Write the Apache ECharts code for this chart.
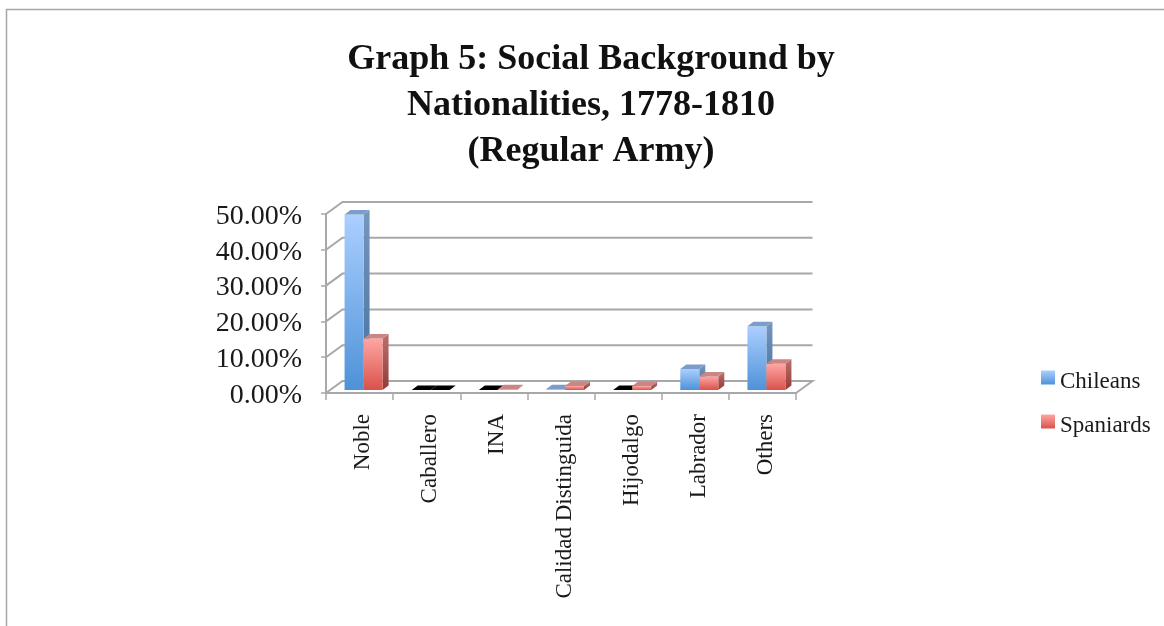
<!DOCTYPE html>
<html>
<head>
<meta charset="utf-8">
<style>html,body{margin:0;padding:0;background:#fff}#chart{width:1164px;height:626px}</style>
<script src="https://cdn.jsdelivr.net/npm/echarts@6/dist/echarts.min.js"></script>
</head>
<body>
<div id="chart"></div>
<script>
// Share of officers per social background, in percent
const categories = ['Noble', 'Caballero', 'INA', 'Calidad Distinguida', 'Hijodalgo', 'Labrador', 'Others'];
const chileans = [49, 0, 0, 0.2, 0, 5.9, 17.8];
const spaniards = [14.4, 0, 0.2, 1.1, 1.1, 3.8, 7.3];
const yTicks = [0, 10, 20, 30, 40, 50];
const titleLines = ['Graph 5: Social Background by', 'Nationalities, 1778-1810', '(Regular Army)'];

const FONT = '"Liberation Serif", serif';
const TEXT = '#1a1a1a';
const WALL = '#a8a8a8';

// Oblique projection of the chart box and of a single bar
const BOX_DEPTH = [16.5, -12];
const BAR_DEPTH = [6, -4.5];
const BAR_SHIFT = [4, -3];
const BAR_W = 19;

function vGrad(top, bottom) {
  return {type: 'linear', x: 0, y: 0, x2: 0, y2: 1,
    colorStops: [{offset: 0, color: top}, {offset: 1, color: bottom}]};
}

const palette = {
  Chileans: {front: vGrad('#abcfff', '#4e92d8'), side: vGrad('#7696bd', '#436f9e'), top: '#7c9cca'},
  Spaniards: {front: vGrad('#ffa6a3', '#d9524b'), side: vGrad('#b9716e', '#943a36'), top: '#c98683'}
};

// Box walls: one polyline per value tick, plus the floor edge on the right
function renderWall(params, api) {
  const cs = params.coordSys;
  const y = api.coord([0, api.value(0)])[1];
  const x0 = cs.x, x1 = cs.x + cs.width;
  const bx0 = x0 + BOX_DEPTH[0], bx1 = x1 + BOX_DEPTH[0], by = y + BOX_DEPTH[1];
  const points = [[x0, y], [bx0, by], [bx1, by]];
  if (api.value(0) === 0) points.push([x1, y]);
  return {type: 'polyline', shape: {points},
    style: {fill: null, stroke: WALL, lineWidth: 2}, silent: true};
}

function poly(points, fill) {
  return {type: 'polygon', shape: {points}, style: {fill}};
}

// A 3D column: front face, right side and top; an empty column shows a black cap
function barRenderer(name, slot) {
  const colors = palette[name];
  return function (params, api) {
    const base = api.coord([api.value(0), 0]);
    const head = api.coord([api.value(0), api.value(1)]);
    const v = api.value(1);
    const l = base[0] + BAR_SHIFT[0] + (slot - 1) * BAR_W;
    const r = l + BAR_W;
    const b = base[1] + BAR_SHIFT[1];
    const t = head[1] + BAR_SHIFT[1];
    const dx = BAR_DEPTH[0], dy = BAR_DEPTH[1];
    const children = [];
    if (v > 0) {
      children.push(poly([[r, t], [r + dx, t + dy], [r + dx, b + dy], [r, b]], colors.side));
      children.push(poly([[l, t], [r, t], [r, b], [l, b]], colors.front));
    }
    children.push(poly([[l, t], [l + dx, t + dy], [r + dx, t + dy], [r, t]], v > 0 ? colors.top : '#000'));
    return {type: 'group', children};
  };
}

const chart = echarts.init(document.getElementById('chart'), null, {renderer: 'canvas'});
chart.setOption({
  animation: false,
  backgroundColor: '#fff',
  title: {
    text: titleLines.join('\n'),
    left: 586,
    top: 32,
    textAlign: 'center',
    textStyle: {fontFamily: FONT, fontWeight: 'bold', fontSize: 36, lineHeight: 46, color: '#111'}
  },
  legend: {
    orient: 'vertical',
    left: 1036,
    top: 365,
    itemWidth: 14,
    itemHeight: 14,
    itemGap: 21,
    icon: 'rect',
    data: ['Chileans', 'Spaniards'],
    formatter: name => '{t|' + name + '}',
    textStyle: {rich: {t: {fontFamily: FONT, fontSize: 23, color: TEXT, padding: [8, 0, 0, 0]}}}
  },
  grid: {left: 326, top: 214, width: 470, height: 179},
  xAxis: {
    type: 'category',
    data: categories,
    axisLine: {lineStyle: {color: WALL, width: 2}},
    axisTick: {show: true, length: 7, alignWithLabel: false, lineStyle: {color: WALL, width: 1.5}},
    axisLabel: {rotate: 90, interval: 0, margin: 21,
      formatter: v => '{t|' + v + '}',
      rich: {t: {fontFamily: FONT, fontSize: 23, color: TEXT, padding: [7, 0, 0, 0]}}}
  },
  yAxis: {
    type: 'value',
    min: 0,
    max: 50,
    interval: 10,
    splitLine: {show: false},
    axisLine: {show: true, lineStyle: {color: WALL, width: 2}},
    axisTick: {show: true, length: 5, lineStyle: {color: WALL, width: 1.5}},
    axisLabel: {margin: 24,
      formatter: v => '{t|' + v.toFixed(2) + '%}',
      rich: {t: {fontFamily: FONT, fontSize: 28, color: TEXT, padding: [5, 0, 0, 0]}}}
  },
  series: [
    {
      name: 'walls',
      type: 'custom',
      coordinateSystem: 'cartesian2d',
      silent: true,
      z: 1,
      clip: false,
      data: yTicks.map(v => [v]),
      encode: {y: 0},
      renderItem: renderWall
    },
    ...[['Chileans', chileans, 0], ['Spaniards', spaniards, 1]].map(([name, values, slot]) => ({
      name,
      type: 'custom',
      coordinateSystem: 'cartesian2d',
      z: 3,
      clip: false,
      itemStyle: {color: palette[name].front},
      data: values.map((v, i) => [i, v]),
      encode: {x: 0, y: 1},
      renderItem: barRenderer(name, slot)
    }))
  ],
  graphic: [
    {type: 'polyline', silent: true,
      shape: {points: [[6.5, 626], [6.5, 9.5], [1164, 9.5]]},
      style: {fill: null, stroke: '#a6a6a6', lineWidth: 1.5}}
  ]
});
</script>
</body>
</html>
